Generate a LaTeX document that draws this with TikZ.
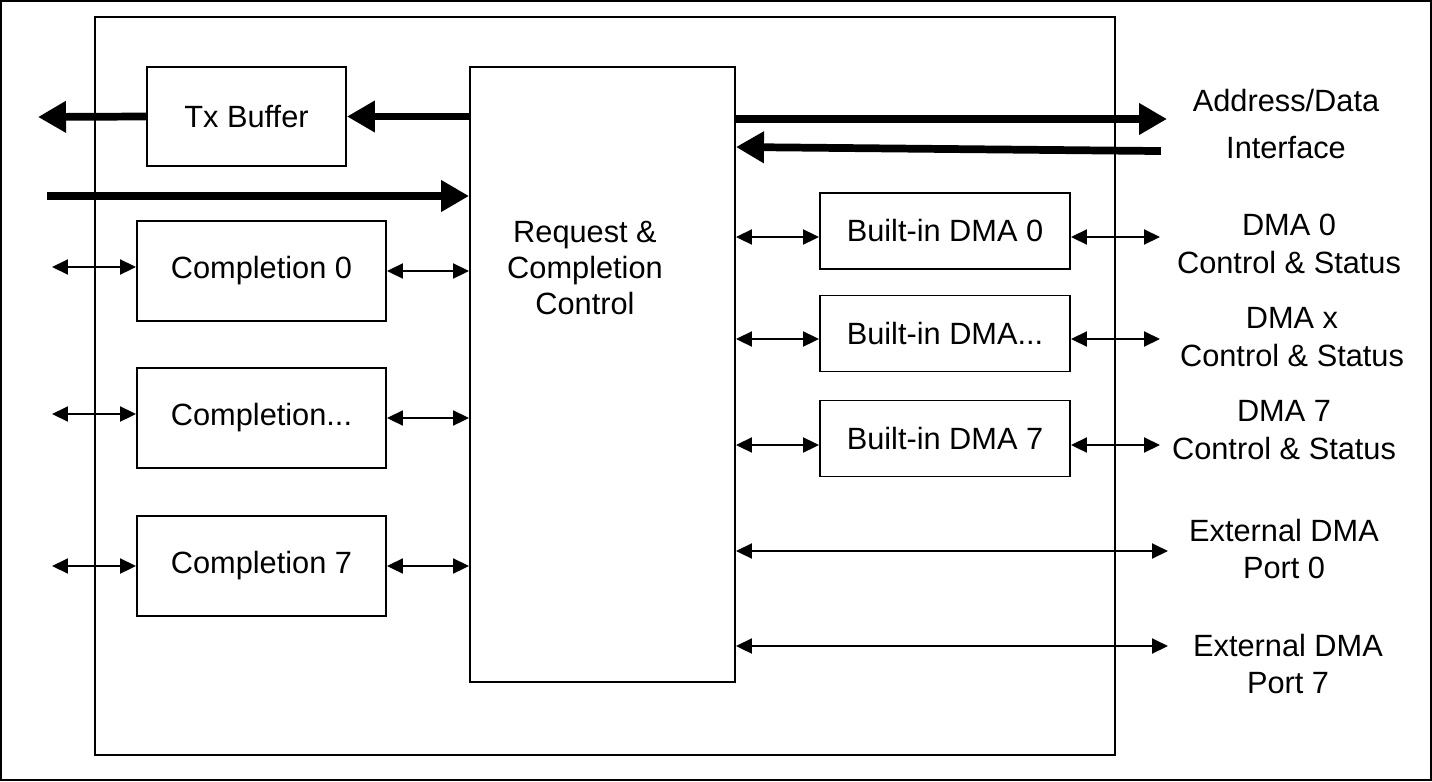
\documentclass[tikz,border=0pt]{standalone}
\usepackage{fontspec}
\setmainfont{Liberation Sans}
\usetikzlibrary{arrows.meta, positioning, calc}
\tikzset{
  every picture/.style={line width=1.1pt},
  blk/.style={draw, line width=1.1pt, inner sep=0pt, font=\fontsize{17.5}{21}\selectfont},
  link/.style={{Triangle[length=3.2mm,width=3mm]}-{Triangle[length=3.2mm,width=3mm]}, line width=1.1pt},
  bus/.style={-{Triangle[length=5.6mm,width=6mm]}, line width=4.4pt},
  lbl/.style={align=center, inner sep=0pt, font=\fontsize{17.5}{21.5}\selectfont},
}

\begin{document}
\begin{tikzpicture}[x=0.02cm, y=-0.02cm]
  \useasboundingbox (0,0) rectangle (1432,781);
  \draw[line width=1.4pt] (1,1) rectangle (1431,780);
  % core outline
  \draw (95,17) rectangle (1115,755);

  % blocks
  \node[blk, minimum width=3.98cm, minimum height=1.98cm] (tx) at (246.5,116.5) {Tx Buffer};
  \node[blk, minimum width=5.3cm, minimum height=12.3cm] (rcc) at (602.5,374.5) {};
  \node[lbl, font=\fontsize{17.5}{20.5}\selectfont] (rcclbl) at (585,268) {Request \&\\Completion\\Control};
  \node[blk, minimum width=4.98cm, minimum height=2cm] (c0) at (261.5,271) {Completion 0};
  \node[blk, minimum width=4.98cm, minimum height=2cm] (c1) at (261.5,418) {Completion...};
  \node[blk, minimum width=4.98cm, minimum height=2cm] (c7) at (261.5,566) {Completion 7};
  \node[blk, minimum width=5cm, minimum height=1.52cm] (d0) at (945,231) {Built-in DMA 0};
  \node[blk, minimum width=5cm, minimum height=1.52cm] (d1) at (945,333.5) {Built-in DMA...};
  \node[blk, minimum width=5cm, minimum height=1.52cm] (d7) at (945,438.5) {Built-in DMA 7};

  % outside labels
  \node[lbl] (adlbl) at (1286,124) {Address/Data\\[0.18cm]Interface};
  \node[lbl] (d0lbl) at (1289,244) {DMA 0\\Control \& Status};
  \node[lbl] (d1lbl) at (1292,337) {DMA x\\Control \& Status};
  \node[lbl] (d7lbl) at (1284,430) {DMA 7\\Control \& Status};
  \node[lbl] (e0lbl) at (1284,549) {External DMA\\Port 0};
  \node[lbl] (e7lbl) at (1288,664) {External DMA\\Port 7};

  % free ends
  \coordinate (txout) at (38,117);
  \coordinate (rxin) at (47,196);
  \coordinate (adout) at (1167,119);
  \coordinate (adin) at (1157,151);
  \coordinate (c0in) at (52,267);
  \coordinate (c1in) at (52,414);
  \coordinate (c7in) at (52,566);
  \coordinate (d0out) at (1160,237);
  \coordinate (d1out) at (1160,339);
  \coordinate (d7out) at (1160,445);
  \coordinate (e0out) at (1168,551);
  \coordinate (e7out) at (1168,646);

  % buses
  \draw[bus] (tx.west) -- (txout);
  \draw[bus] (rcc.west |- tx.east) -- (tx.east);
  \draw[bus] (rxin) -- (rcc.west |- rxin);
  \draw[bus] (rcc.east |- adout) -- (adout);
  \draw[bus, line cap=rect] (adin) -- ($(rcc.east |- adin)+(0,-4)$);

  % completion links
  \foreach \c in {c0,c1,c7} {
    \draw[link] (\c in) -- (\c.west |- \c in);
    \draw[link] (\c.east) -- (\c.east -| rcc.west);
  }
  % dma links
  \foreach \d in {d0,d1,d7} {
    \draw[link] (rcc.east |- \d out) -- (\d.west |- \d out);
    \draw[link] (\d.east |- \d out) -- (\d out);
  }
  \draw[link] (rcc.east |- e0out) -- (e0out);
  \draw[link] (rcc.east |- e7out) -- (e7out);
\end{tikzpicture}
\end{document}
